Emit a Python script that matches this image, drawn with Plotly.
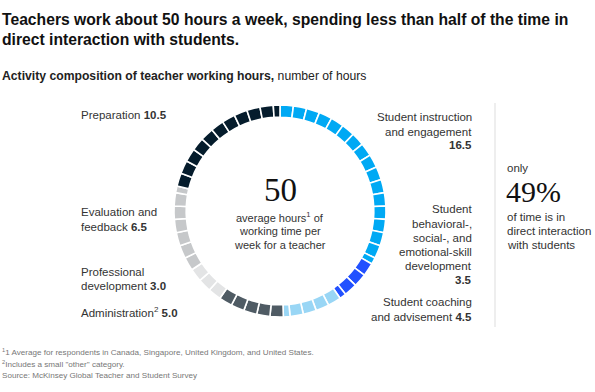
import plotly.graph_objects as go

categories = ["Student instruction and engagement",
              "Student behavioral-, social-, and emotional-skill development",
              "Student coaching and advisement",
              "Administration",
              "Professional development",
              "Evaluation and feedback",
              "Preparation"]
hours = [16.5, 3.5, 4.5, 5.0, 3.0, 6.5, 10.5]
colors = ["#00A9F4", "#2251FF", "#99D6F5", "#4F5B64", "#E3E4E5", "#C6C8CA", "#051C2C"]
total_label = "50"
share_label = "49%"

# split each activity into one-hour units (plus remainder)
seg_vals, seg_cols, seg_names = [], [], []
for name, h, c in zip(categories, hours, colors):
    full = int(h)
    rem = h - full
    for _ in range(full):
        seg_vals.append(1.0); seg_cols.append(c); seg_names.append(name)
    if rem > 0:
        seg_vals.append(rem); seg_cols.append(c); seg_names.append(name)

W, H = 595, 392
cx, cy, R = 280, 211, 106

fig = go.Figure(go.Pie(
    values=seg_vals,
    labels=[f"{n} #{i}" for i, n in enumerate(seg_names)],
    marker=dict(colors=seg_cols, line=dict(color="white", width=1.6)),
    hole=0.885, sort=False, direction="clockwise", rotation=0,
    textinfo="none", hoverinfo="skip", showlegend=False,
    domain=dict(x=[(cx - R) / W, (cx + R) / W],
                y=[(H - cy - R) / H, (H - cy + R) / H]),
))

SANS = "Liberation Sans"
SERIF = "Liberation Serif"
TXT = "#333333"

ann = []
def add(x, y, text, size=11.5, color=TXT, align="left", family=SANS, xanchor=None):
    ann.append(dict(x=x / W, y=1 - y / H, xref="paper", yref="paper", text=text,
                    showarrow=False, xanchor=xanchor or align, yanchor="middle",
                    align=align, borderpad=0,
                    font=dict(family=family, size=size, color=color)))

# title
add(1, 20, "<b>Teachers work about 50 hours a week, spending less than half of the time in</b>", size=15.7, color="#111111")
add(1, 39, "<b>direct interaction with students.</b>", size=15.7, color="#111111")
add(1, 76, "<b>Activity composition of teacher working hours,</b> number of hours", size=12.2, color="#222222")

# center
add(cx, 190, total_label, size=33, color="#111111", family=SERIF, align="center")
add(cx, 217, "average hours<sup>1</sup> of", size=11, align="center")
add(cx, 231, "working time per", size=11, align="center")
add(cx, 245, "week for a teacher", size=11, align="center")

# left labels
add(80, 115, f"Preparation <b>{hours[6]}</b>")
add(80, 212, "Evaluation and")
add(80, 227, f"feedback <b>{hours[5]}</b>")
add(80, 272, "Professional")
add(80, 286, f"development <b>{hours[4]}</b>")
add(80, 312, f"Administration<sup>2</sup> <b>{hours[3]}</b>")

# right labels
rx = 473
add(rx, 117, "Student instruction", align="right")
add(rx, 132, "and engagement", align="right")
add(rx, 145, f"<b>{hours[0]}</b>", align="right")
for yy, t in zip([209, 224, 238, 252, 266], ["Student", "behavioral-,", "social-, and", "emotional-skill", "development"]):
    add(rx, yy, t, align="right")
add(rx, 280, f"<b>{hours[1]}</b>", align="right")
add(rx, 302, "Student coaching", align="right")
add(rx, 317, f"and advisement <b>{hours[2]}</b>", align="right")

# share callout
add(506, 168, "only")
add(505, 191, share_label, size=30, color="#111111", family=SERIF)
add(506, 217, "of time is in")
add(506, 231, "direct interaction")
add(506, 245, "with students")

# footnotes
add(1, 352, "<sup>1</sup>1 Average for respondents in Canada, Singapore, United Kingdom, and United States.", size=8.1, color="#777777")
add(1, 364, "<sup>2</sup>Includes a small \"other\" category.", size=8.1, color="#777777")
add(1, 375, "Source: McKinsey Global Teacher and Student Survey", size=8.1, color="#777777")

fig.update_layout(
    width=W, height=H, margin=dict(l=0, r=0, t=0, b=0),
    paper_bgcolor="white", plot_bgcolor="white",
    annotations=ann,
    shapes=[dict(type="line", xref="paper", yref="paper",
                 x0=495 / W, x1=495 / W, y0=1 - 103 / H, y1=1 - 327 / H,
                 line=dict(color="#DDDDDD", width=1))],
)
fig.write_html("out.html", config={"displayModeBar": False},
               post_script="document.body.style.margin='0px';")
